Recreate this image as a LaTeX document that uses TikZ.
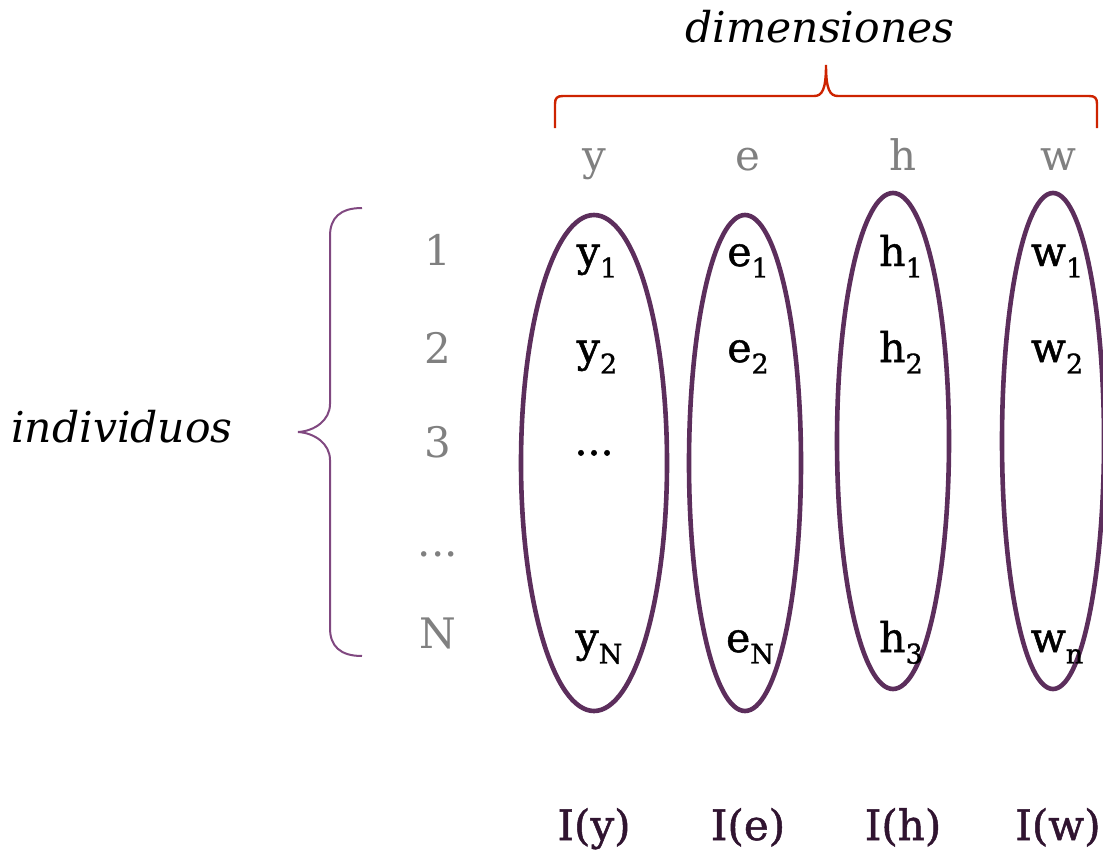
\documentclass[tikz,border=0pt]{standalone}
\usepackage{fontspec}
\setmainfont{DejaVu Serif}
\newfontfamily\entryfont[FakeBold=1.2]{DejaVu Serif}
\usepackage{xcolor}
\usepackage{tikz}
\usetikzlibrary{shapes.geometric, positioning}
\definecolor{colpurple}{RGB}{92,46,92}
\definecolor{bracepurple}{RGB}{128,72,128}
\definecolor{bracered}{RGB}{205,35,0}
\definecolor{labgray}{RGB}{128,128,128}
\definecolor{indpurple}{RGB}{48,20,48}
\newcommand{\subidx}[1]{\raisebox{-0.28em}{\fontsize{27}{27}\selectfont #1}}
\newcommand{\rowdots}{.{}.{}.}

\begin{document}
\begin{tikzpicture}[
  x=1pt, y=-1pt,
  hdr/.style={anchor=base, text=labgray, font=\fontsize{42}{44}\selectfont},
  entry/.style={anchor=base, text=black, font=\entryfont\fontsize{41}{44}\selectfont},
  ilabel/.style={anchor=base, text=indpurple, font=\entryfont\fontsize{42}{44}\selectfont},
  title/.style={anchor=base, font=\itshape\fontsize{42.5}{46}\selectfont},
  col/.style={ellipse, draw=colpurple, line width=4.6pt, inner sep=0pt}
]
  \useasboundingbox (0,0) rectangle (1103,851);

  % titles
  \node[title] (dim) at (820,43) {dimensiones};
  \node[title] (ind) at (122,442) {individuos};

  % braces
  \draw[bracered, line width=2.4pt]
    (555,128) -- (555,104) .. controls (555,98) and (557,96) .. (563,96)
    -- (814,96) .. controls (822,96) and (826,90) .. (826,65)
    .. controls (826,90) and (830,96) .. (838,96)
    -- (1089,96) .. controls (1095,96) and (1097,98) .. (1097,104) -- (1097,128);
  \draw[bracepurple, line width=2pt]
    (362,208) .. controls (340,208) and (330,218) .. (330,236) -- (330,404)
    .. controls (330,420) and (315,431) .. (298,432)
    .. controls (315,433) and (330,444) .. (330,460) -- (330,628)
    .. controls (330,646) and (340,656) .. (362,656);

  % column ellipses
  \node[col, minimum width=146pt, minimum height=496pt] (cy) at (594,463) {};
  \node[col, minimum width=112pt, minimum height=496pt] (ce) at (745,463) {};
  \node[col, minimum width=112pt, minimum height=496pt] (ch) at (893,441) {};
  \node[col, minimum width=102pt, minimum height=496pt] (cw) at (1053,441) {};

  % headers and bottom labels
  \foreach \x/\c in {594/y,748/e,903/h,1058/w} {
    \node[hdr] (h\c) at (\x,170) {\c};
    \node[ilabel] (i\c) at (\x,840) {I(\c)};
  }

  % row numbers
  \foreach \yy/\lab/\n in {265/1/1,363/2/2,457/3/3,556/\rowdots/4,648/N/5} {
    \node[hdr] (r\n) at (438,\yy) {\lab};
  }

  % entries
  \node[entry] (y1) at (597,266) {y\subidx{1}};
  \node[entry] (y2) at (597,362) {y\subidx{2}};
  \node[entry] (y3) at (594,455) {\rowdots};
  \node[entry] (yN) at (599,652) {y\subidx{N}};
  \node[entry] (e1) at (748,266) {e\subidx{1}};
  \node[entry] (e2) at (748,362) {e\subidx{2}};
  \node[entry] (eN) at (750,652) {e\subidx{N}};
  \node[entry] (h1) at (901,266) {h\subidx{1}};
  \node[entry] (h2) at (901,362) {h\subidx{2}};
  \node[entry] (h3) at (901,652) {h\subidx{3}};
  \node[entry] (w1) at (1057,266) {w\subidx{1}};
  \node[entry] (w2) at (1057,362) {w\subidx{2}};
  \node[entry] (wn) at (1057,652) {w\subidx{n}};
\end{tikzpicture}
\end{document}
